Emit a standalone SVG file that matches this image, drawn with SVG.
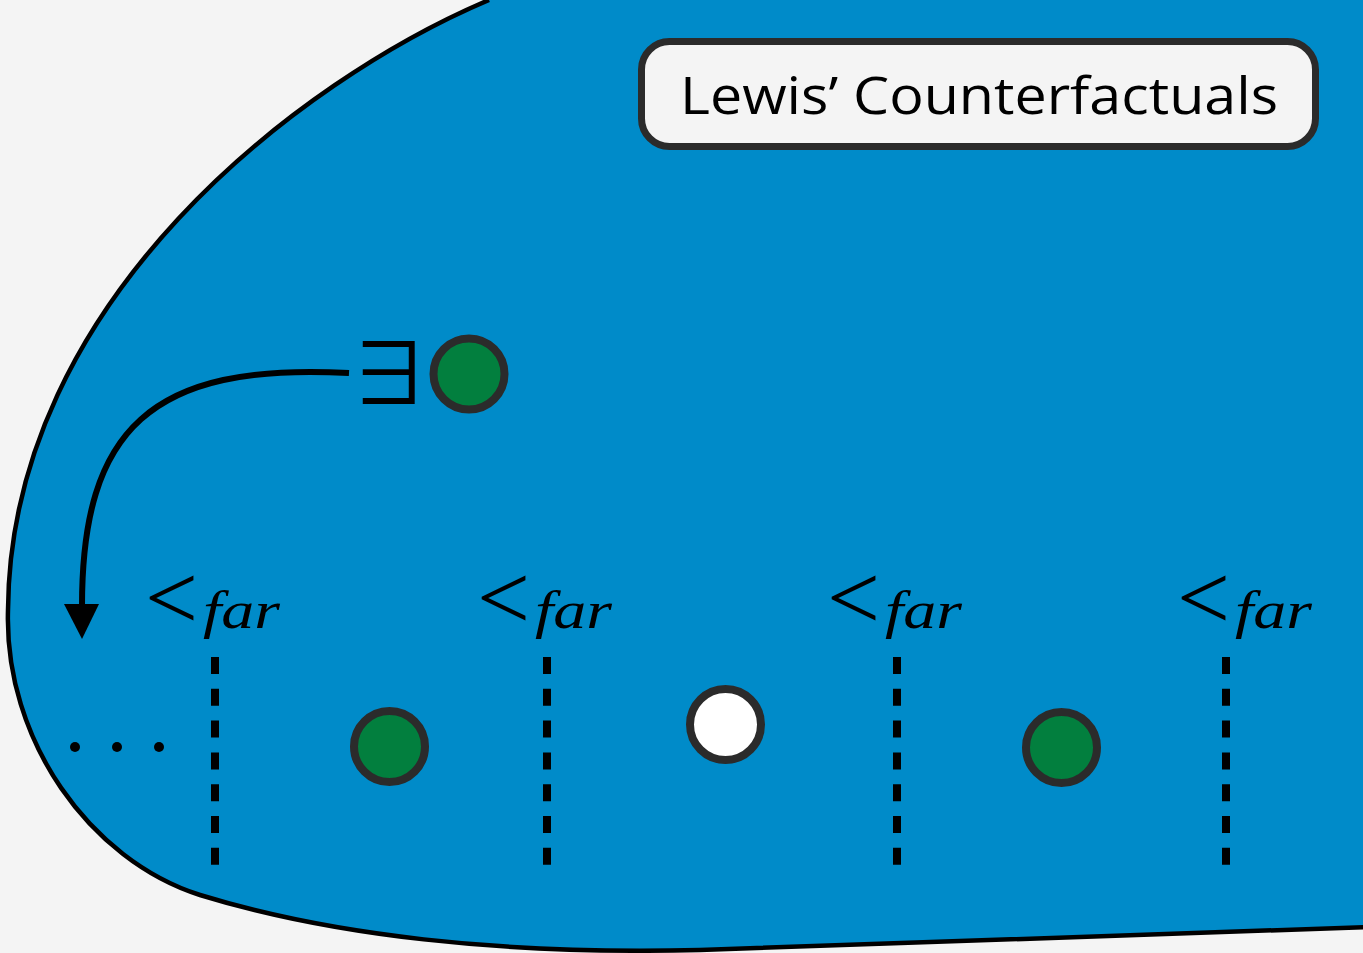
<svg xmlns="http://www.w3.org/2000/svg" width="1363" height="953" viewBox="0 0 1363 953">
<defs>
<style>
.dot{stroke:#2b2b2b;stroke-width:8}
.green{fill:#027f3e}
.white{fill:#ffffff}
.lt{font-family:"Liberation Serif",serif;font-size:94px;fill:#000}
.far{font-family:"Liberation Serif",serif;font-style:italic;font-size:52px;fill:#000}
.dash{stroke:#000;stroke-width:8;stroke-dasharray:17 14.8;fill:none}
</style>
</defs>
<rect width="1363" height="953" fill="#f4f4f4"/>
<g id="region">
<path d="M 489,0 C 300,80 10,300 8,610 C 4,740 90,860 200,895 C 330,935 500,955 700,950 L 1363,927 L 1380,927 L 1380,-10 L 500,-10 Z" fill="#008bc9"/>
<path d="M 489,0 C 300,80 10,300 8,610 C 4,740 90,860 200,895 C 330,935 500,955 700,950 L 1370,927" fill="none" stroke="#000" stroke-width="4.5"/>
</g>
<g id="title">
<rect x="641.5" y="41.5" width="674" height="105" rx="28" fill="#f4f4f4" stroke="#2b2b2b" stroke-width="7"/>
<text x="979" y="114" text-anchor="middle" font-family="'Open Sans',sans-serif" font-size="51" fill="#000" textLength="598" lengthAdjust="spacingAndGlyphs">Lewis’ Counterfactuals</text>
</g>
<g id="connectors">
<path d="M 349,373 C 150,362 82,430 82,606" fill="none" stroke="#000" stroke-width="6"/>
<polygon points="64,604 99,604 82,639" fill="#000"/>
</g>
<g id="exists">
<text x="389" y="405" text-anchor="middle" font-family="'Noto Sans CJK JP','DejaVu Sans',sans-serif" font-size="86" fill="#000">∃</text>
<circle cx="469" cy="374" r="35.5" class="dot green"/>
</g>
<g id="dots">
<circle cx="75" cy="747" r="5" fill="#000"/>
<circle cx="117" cy="747" r="5" fill="#000"/>
<circle cx="159" cy="747" r="5" fill="#000"/>
</g>
<g id="sep1">
<text x="145" y="629" class="lt">&lt;</text>
<text x="203" y="628" class="far" textLength="77" lengthAdjust="spacingAndGlyphs">far</text>
<line x1="215" y1="657" x2="215" y2="865" class="dash"/>
</g>
<g id="world1"><circle cx="389.5" cy="746.5" r="35.5" class="dot green"/></g>
<g id="sep2">
<text x="477" y="629" class="lt">&lt;</text>
<text x="535" y="628" class="far" textLength="77" lengthAdjust="spacingAndGlyphs">far</text>
<line x1="547" y1="657" x2="547" y2="865" class="dash"/>
</g>
<g id="world2"><circle cx="725.5" cy="724.5" r="35.5" class="dot white"/></g>
<g id="sep3">
<text x="827" y="629" class="lt">&lt;</text>
<text x="885" y="628" class="far" textLength="77" lengthAdjust="spacingAndGlyphs">far</text>
<line x1="897" y1="657" x2="897" y2="865" class="dash"/>
</g>
<g id="world3"><circle cx="1061.5" cy="747.5" r="35.5" class="dot green"/></g>
<g id="sep4">
<text x="1177" y="629" class="lt">&lt;</text>
<text x="1235" y="628" class="far" textLength="77" lengthAdjust="spacingAndGlyphs">far</text>
<line x1="1226" y1="657" x2="1226" y2="865" class="dash"/>
</g>
</svg>
